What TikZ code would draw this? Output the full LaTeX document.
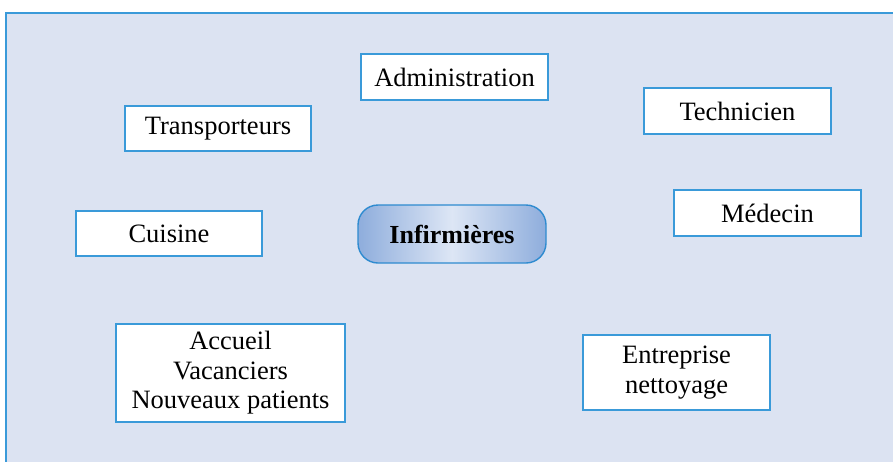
\documentclass[tikz,border=0pt]{standalone}
\usepackage{fontspec}
\setmainfont{Liberation Serif}
\definecolor{bgblue}{HTML}{DCE3F2}
\definecolor{lineblue}{HTML}{3A9AD9}
\definecolor{gradout}{HTML}{8EADDC}
\definecolor{gradin}{HTML}{DDE6F5}
\definecolor{infborder}{HTML}{2E8BD0}
\begin{document}
\begin{tikzpicture}[x=1pt,y=-1pt,
  actor/.style={draw=lineblue,line width=1.6pt,fill=white,rectangle,inner sep=0pt,
    align=center,font=\fontsize{26.5}{29.5}\selectfont},
  central/.style={draw=infborder,line width=1.4pt,rounded corners=20pt,inner sep=0pt,
    left color=gradout,right color=gradout,middle color=gradin,
    font=\fontsize{26}{29}\selectfont\bfseries}]
\useasboundingbox (0,0) rectangle (893,461);
\clip (0,0) rectangle (893,461);
\fill[white] (0,0) rectangle (893,461);
\draw[draw=lineblue,line width=2pt,fill=bgblue] (6,13) rectangle (905,475);
\node[actor,minimum width=187pt,minimum height=46pt] (adm) at (454.5,77) {Administration};
\node[actor,minimum width=186pt,minimum height=45pt] (trans) at (218,128.5) {Transporteurs};
\node[actor,minimum width=187pt,minimum height=46pt] (tech) at (737.5,111) {Technicien};
\node[actor,minimum width=186pt,minimum height=45pt] (cuis) at (169,233.5) {Cuisine};
\node[central,minimum width=188pt,minimum height=58pt] (inf) at (452,234) {Infirmières};
\node[actor,minimum width=187pt,minimum height=46pt] (med) at (767.5,213) {Médecin};
\node[actor,minimum width=229pt,minimum height=98pt] (acc) at (230.5,373) {Accueil\\Vacanciers\\Nouveaux patients};
\node[actor,minimum width=187pt,minimum height=75pt] (ent) at (676.5,372.5) {Entreprise\\nettoyage};
\end{tikzpicture}
\end{document}
